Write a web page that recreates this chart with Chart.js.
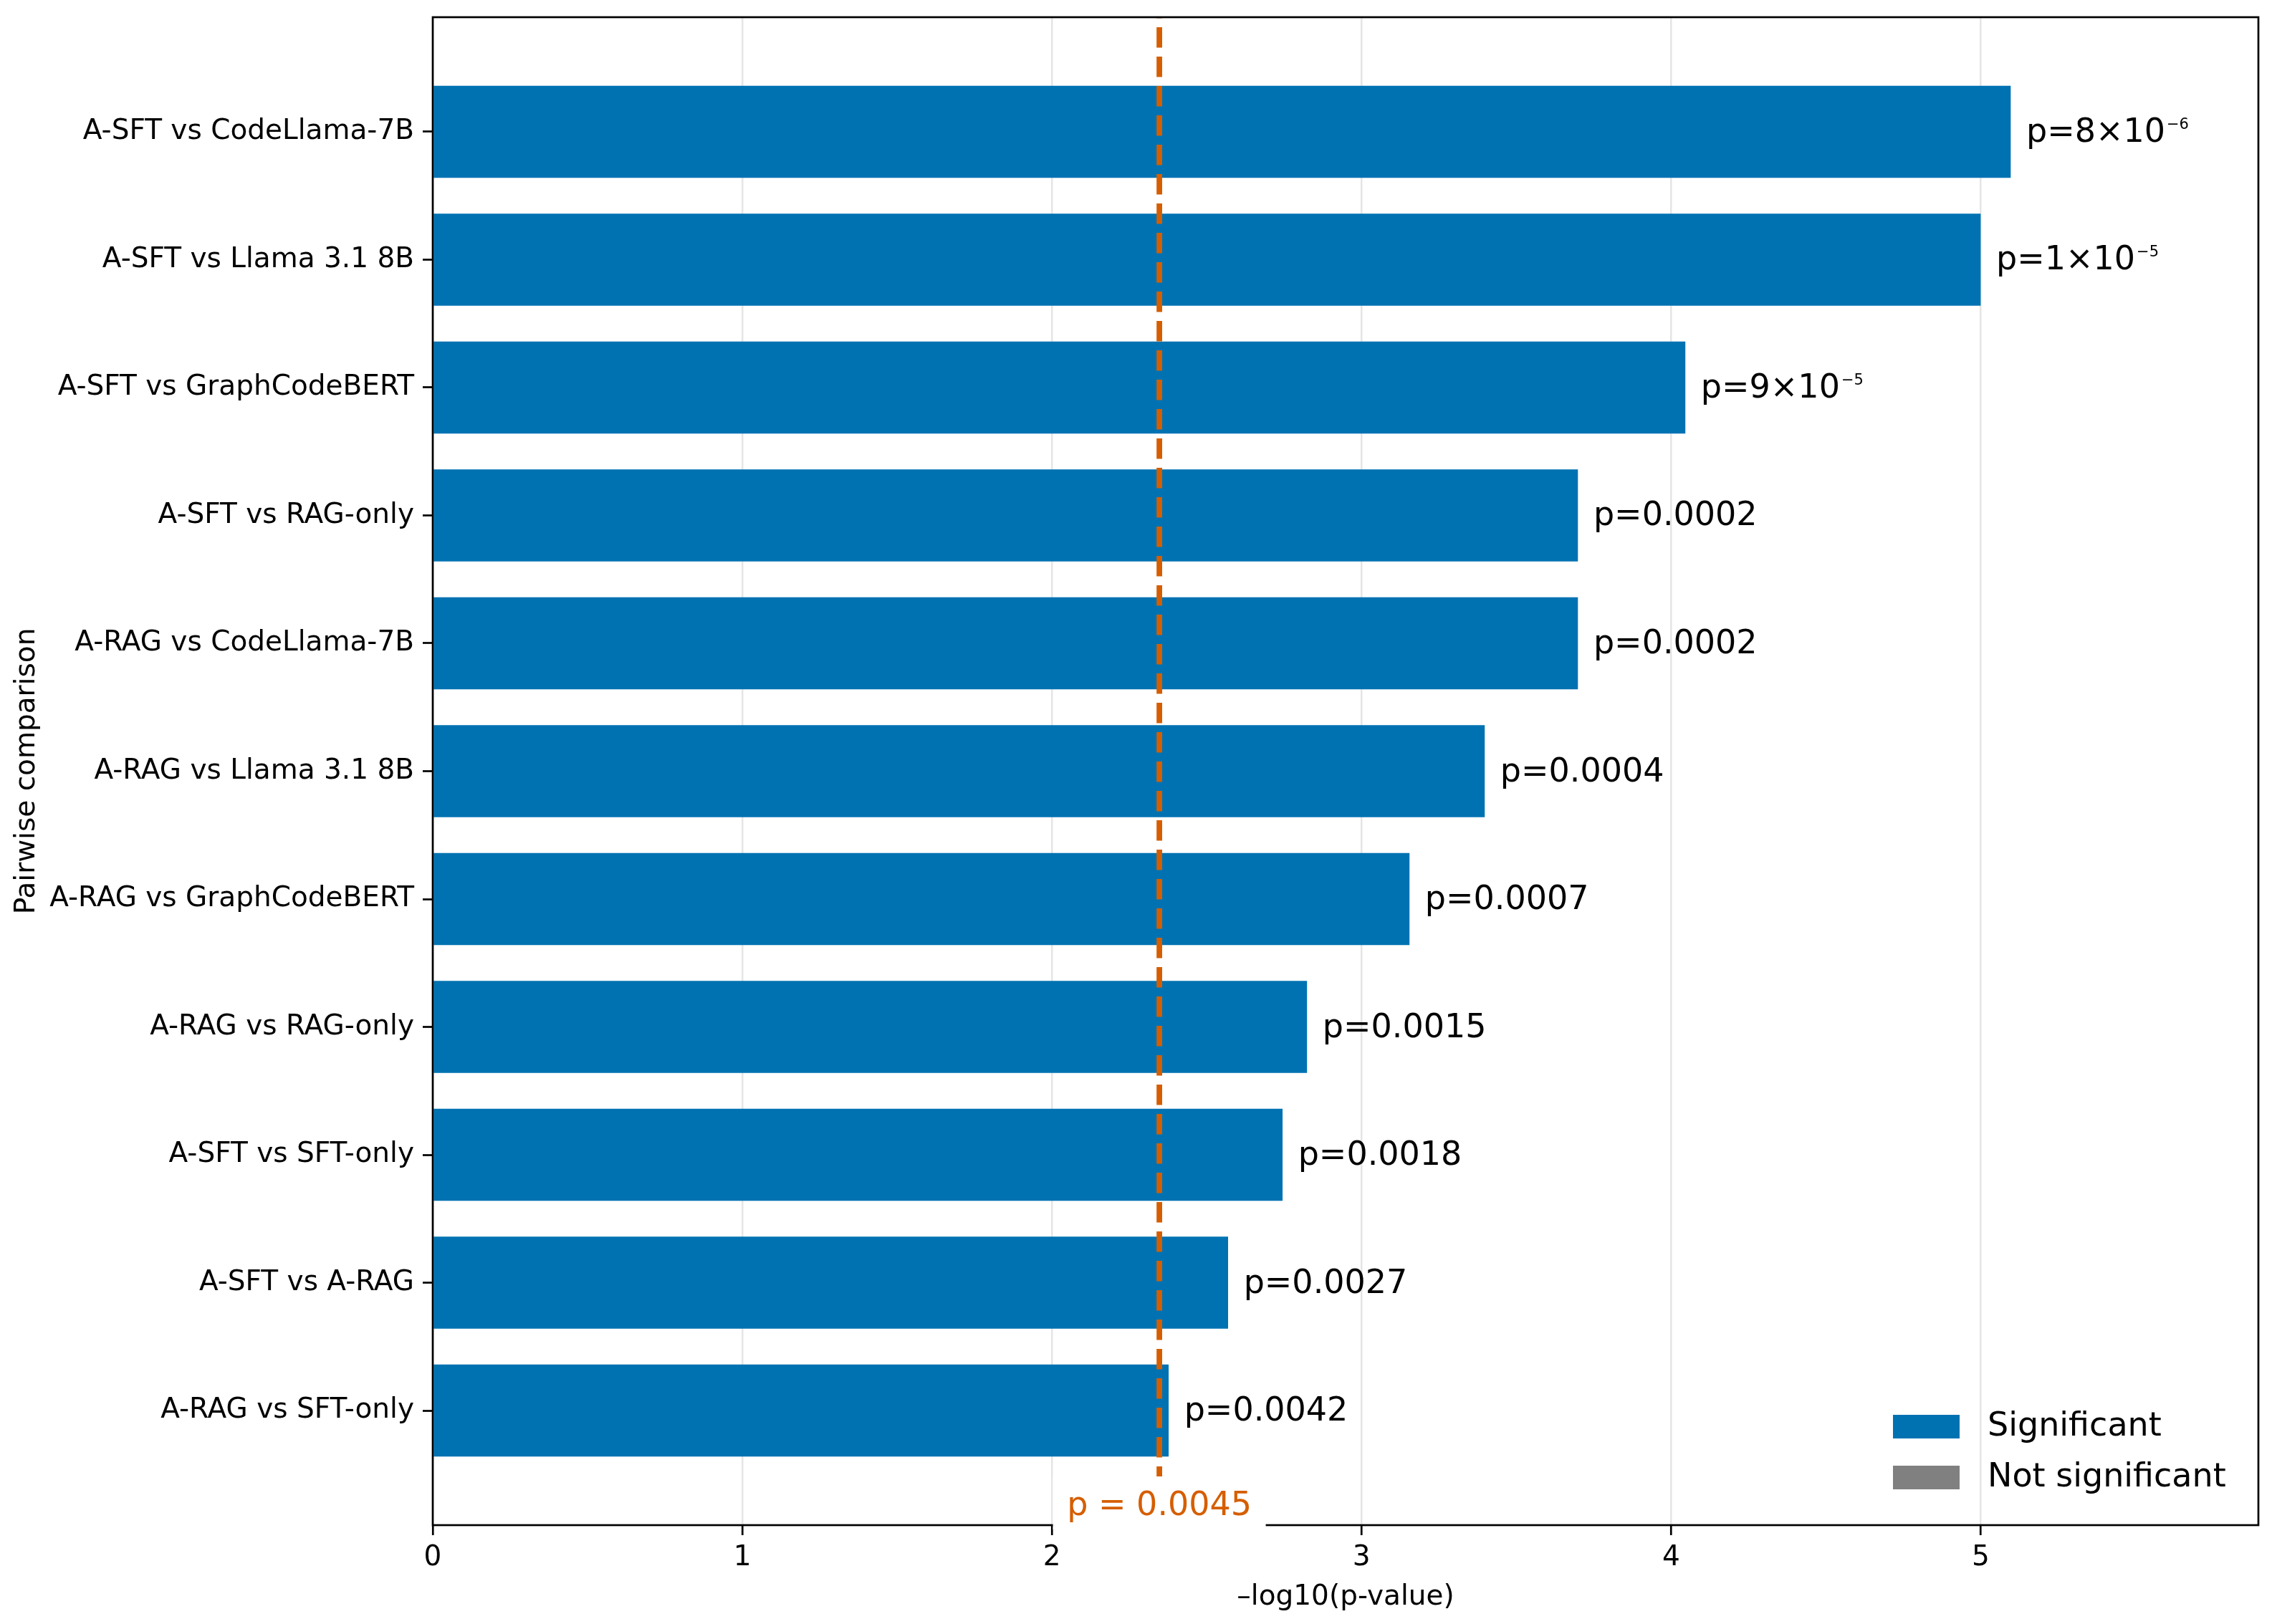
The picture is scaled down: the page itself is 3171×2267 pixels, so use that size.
<!DOCTYPE html>
<html>
<head>
<meta charset="utf-8">
<script src="https://cdn.jsdelivr.net/npm/chart.js@4.4.1/dist/chart.umd.min.js"></script>
<style>
html,body{margin:0;padding:0;background:#ffffff;}
canvas{display:block;}
</style>
</head>
<body>
<canvas id="chart" width="3171" height="2267" style="width:3171px;height:2267px"></canvas>
<script>
// ---------------- data ----------------
const comparisons = [
  'A-SFT vs CodeLlama-7B',
  'A-SFT vs Llama 3.1 8B',
  'A-SFT vs GraphCodeBERT',
  'A-SFT vs RAG-only',
  'A-RAG vs CodeLlama-7B',
  'A-RAG vs Llama 3.1 8B',
  'A-RAG vs GraphCodeBERT',
  'A-RAG vs RAG-only',
  'A-SFT vs SFT-only',
  'A-SFT vs A-RAG',
  'A-RAG vs SFT-only'
];
const negLog10P = [5.097, 5.000, 4.046, 3.699, 3.699, 3.398, 3.155, 2.824, 2.745, 2.569, 2.377];
const pLabels = [
  'p=8×10⁻⁶', 'p=1×10⁻⁵', 'p=9×10⁻⁵', 'p=0.0002', 'p=0.0002', 'p=0.0004',
  'p=0.0007', 'p=0.0015', 'p=0.0018', 'p=0.0027', 'p=0.0042'
];
const xTickValues = [0, 1, 2, 3, 4, 5];
const xMax = 5.897;
const thresholdValue = 2.347;
const thresholdLabel = 'p = 0.0045';
const legendLabels = ['Significant', 'Not significant'];
const xAxisTitle = '–log10(p-value)';
const yAxisTitle = 'Pairwise comparison';

// ---------------- styles ----------------
const BLUE = '#0072B2';
const GRAY = '#808080';
const ORANGE = '#D55E00';
const legendColors = [BLUE, GRAY];
const FONT = "'DejaVu Sans', 'Liberation Sans', sans-serif";
const TICK_FONT_SIZE = 39;
const BIG_FONT_SIZE = 46;
const SUP_FONT_SIZE = 21;

// superscript characters -> drawn as small raised text
const SUP_MAP = {'⁻':'−','⁰':'0','¹':'1','²':'2','³':'3','⁴':'4','⁵':'5','⁶':'6','⁷':'7','⁸':'8','⁹':'9'};
function splitSup(s) {
  let i = s.length;
  while (i > 0 && SUP_MAP[s[i - 1]] !== undefined) i--;
  return { base: s.slice(0, i), sup: s.slice(i).split('').map(c => SUP_MAP[c]).join('') };
}

const overlayPlugin = {
  id: 'overlay',
  afterDraw(chart) {
    const ctx = chart.ctx;
    const ca = chart.chartArea;
    const xs = chart.scales.x;
    const ys = chart.scales.y;

    // threshold dashed line
    ctx.save();
    ctx.beginPath();
    ctx.rect(ca.left, ca.top, ca.right - ca.left, ca.bottom - ca.top);
    ctx.clip();
    const tx = xs.getPixelForValue(thresholdValue);
    ctx.strokeStyle = ORANGE;
    ctx.lineWidth = 7.8;
    ctx.lineCap = 'butt';
    ctx.setLineDash([28.5, 12.5]);
    ctx.lineDashOffset = 27;
    ctx.beginPath();
    ctx.moveTo(tx, ca.top);
    ctx.lineTo(tx, ca.bottom);
    ctx.stroke();
    ctx.restore();

    // p-value annotations
    ctx.save();
    ctx.fillStyle = '#000000';
    ctx.textAlign = 'left';
    ctx.textBaseline = 'alphabetic';
    negLog10P.forEach((v, i) => {
      const px = xs.getPixelForValue(v + 0.05);
      const py = ys.getPixelForValue(i);
      const baseY = py + 14;
      const parts = splitSup(pLabels[i]);
      ctx.font = BIG_FONT_SIZE + 'px ' + FONT;
      ctx.fillText(parts.base, px, baseY);
      if (parts.sup) {
        const w = ctx.measureText(parts.base).width;
        ctx.font = SUP_FONT_SIZE + 'px ' + FONT;
        ctx.fillText(parts.sup, px + w + 2, baseY - 18);
      }
    });
    ctx.restore();

    // frame
    ctx.save();
    ctx.strokeStyle = '#000000';
    ctx.lineWidth = 2.7;
    ctx.strokeRect(ca.left, ca.top, ca.right - ca.left, ca.bottom - ca.top);
    ctx.restore();

    // legend (lower right, no frame)
    ctx.save();
    ctx.font = BIG_FONT_SIZE + 'px ' + FONT;
    ctx.textAlign = 'left';
    ctx.textBaseline = 'middle';
    const patchLeft = ca.right - 510;
    const tops = [ca.bottom - 154, ca.bottom - 83];
    legendLabels.forEach((lab, i) => {
      ctx.fillStyle = legendColors[i];
      ctx.fillRect(patchLeft, tops[i], 93, 33);
      ctx.fillStyle = '#000000';
      ctx.fillText(lab, ca.right - 378, tops[i] + 17);
    });
    ctx.restore();

    // threshold label with white box
    ctx.save();
    ctx.font = BIG_FONT_SIZE + 'px ' + FONT;
    const w = ctx.measureText(thresholdLabel).width;
    const boxW = w + 39;
    ctx.fillStyle = '#ffffff';
    ctx.fillRect(tx - boxW / 2, ca.bottom - 68, boxW, 74);
    ctx.fillStyle = ORANGE;
    ctx.textAlign = 'center';
    ctx.textBaseline = 'alphabetic';
    ctx.fillText(thresholdLabel, tx, ca.bottom - 14);
    ctx.restore();
  }
};

const ctx = document.getElementById('chart').getContext('2d');
new Chart(ctx, {
  type: 'bar',
  data: {
    datasets: [{
      label: legendLabels[0],
      data: negLog10P.map((v, i) => ({ x: v, y: i })),
      backgroundColor: BLUE,
      borderWidth: 0,
      barPercentage: 0.72,
      categoryPercentage: 1.0
    }]
  },
  options: {
    indexAxis: 'y',
    responsive: false,
    animation: false,
    devicePixelRatio: 1,
    layout: { padding: { left: 0, right: 19, top: 24, bottom: 0 } },
    plugins: {
      legend: { display: false },
      tooltip: { enabled: false }
    },
    scales: {
      x: {
        type: 'linear',
        position: 'bottom',
        min: 0,
        max: xMax,
        z: 1,
        afterBuildTicks: (scale) => { scale.ticks = xTickValues.map(v => ({ value: v })); },
        afterFit: (scale) => { scale.height = 138; },
        border: { display: false },
        grid: {
          display: true,
          drawOnChartArea: true,
          color: 'rgba(176,176,176,0.33)',
          lineWidth: 2.5,
          drawTicks: true,
          tickLength: 14,
          tickColor: '#000000',
          tickWidth: 2.7
        },
        ticks: {
          color: '#000000',
          font: { family: FONT, size: TICK_FONT_SIZE, lineHeight: 1.2 },
          padding: 8,
          maxRotation: 0,
          callback: (v) => String(v)
        },
        title: {
          display: true,
          text: xAxisTitle,
          color: '#000000',
          font: { family: FONT, size: TICK_FONT_SIZE, lineHeight: 1.2 },
          padding: { top: 0, bottom: 14 }
        }
      },
      y: {
        type: 'linear',
        position: 'left',
        min: -0.896,
        max: 10.896,
        reverse: true,
        offset: false,
        afterBuildTicks: (scale) => { scale.ticks = comparisons.map((c, i) => ({ value: i })); },
        afterFit: (scale) => { scale.width = 604; scale.paddingTop = 0; scale.paddingBottom = 0; },
        border: { display: false },
        grid: {
          display: true,
          offset: false,
          drawOnChartArea: false,
          drawTicks: true,
          tickLength: 14,
          tickColor: '#000000',
          tickWidth: 2.7
        },
        ticks: {
          color: '#000000',
          font: { family: FONT, size: TICK_FONT_SIZE, lineHeight: 1.2 },
          padding: 12,
          autoSkip: false,
          callback: (v) => comparisons[v] !== undefined ? comparisons[v] : ''
        },
        title: {
          display: true,
          text: yAxisTitle,
          color: '#000000',
          font: { family: FONT, size: TICK_FONT_SIZE, lineHeight: 1.2 },
          padding: { top: 14, bottom: 0 }
        }
      }
    }
  },
  plugins: [overlayPlugin]
});
</script>
</body>
</html>
